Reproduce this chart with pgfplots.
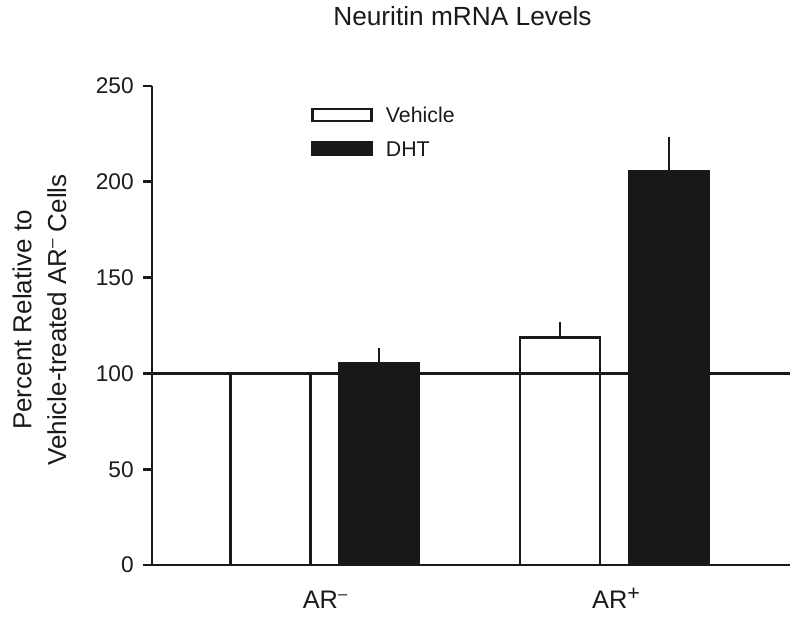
\documentclass[border=0pt]{standalone}
\usepackage{fontspec}
\setmainfont{Liberation Sans}
\usepackage{graphicx}
\usepackage{pgfplots}
\pgfplotsset{compat=1.18}

\definecolor{ink}{RGB}{26,26,26}
\definecolor{barfill}{RGB}{24,24,24}
\newcommand{\supm}{\raisebox{0.35em}{\scalebox{0.65}{–}}}
\newcommand{\supp}{\raisebox{0.3em}{\scalebox{0.85}{+}}}

\begin{document}
\begin{tikzpicture}
\begin{axis}[
  scale only axis,
  width=478.5pt, height=359.25pt,
  xmin=152, xmax=790,
  ymin=0, ymax=250,
  clip=false,
  axis x line=bottom, axis y line=left,
  axis line style={-, line width=2pt, ink},
  ytick={0,50,...,250},
  xtick={325,616},
  xticklabels={AR\supm, AR\supp},
  major x tick style={draw=none},
  tick align=outside,
  major tick length=6.75pt,
  major y tick style={line width=2pt, ink},
  /pgf/number format/assume math mode=true,
  yticklabel style={font=\fontsize{17}{20}\selectfont, text=ink, xshift=-3.5pt},
  xticklabel style={font=\fontsize{19}{22}\selectfont, text=ink, anchor=base, yshift=-25.75pt},
  title={Neuritin mRNA Levels},
  title style={at={(rel axis cs:0.4867,1.1106)}, anchor=base, font=\fontsize{19.7}{23}\selectfont, text=ink},
  ylabel={Percent Relative to\\Vehicle-treated AR\supm{} Cells},
  every axis y label/.style={at={(rel axis cs:-0.1763,0.5115)}, rotate=90, anchor=center,
    align=center, font=\fontsize{19.5}{26}\selectfont, text=ink},
  legend style={draw=none, fill=none, at={(axis cs:311,239)}, anchor=north west,
    inner sep=0pt, row sep=12.5pt, column sep=10pt,
    nodes={inner sep=0pt, font=\fontsize{16}{19}\selectfont, text=ink}},
  legend cell align=left,
  legend image code/.code={\draw[#1] (0pt,-3.6pt) rectangle (44pt,5.4pt);},
]

% Vehicle
\addplot[ybar, bar width=80, bar shift=0pt, draw=ink, fill=white, line width=2pt,
  error bars/.cd, y dir=plus, y explicit, error mark=none,
  error bar style={line width=2pt, ink}]
  coordinates {(270.5,100) +- (0,0) (560,118.8) +- (0,8.2)};
\addlegendentry{Vehicle}

% DHT
\addplot[ybar, bar width=80, bar shift=0pt, draw=barfill, fill=barfill, line width=2pt,
  error bars/.cd, y dir=plus, y explicit, error mark=none,
  error bar style={line width=2pt, ink}]
  coordinates {(379,105.3) +- (0,7.8) (669,205.3) +- (0,18.2)};
\addlegendentry{DHT}

% reference line at 100 %
\addplot[ink, line width=2pt, forget plot] coordinates {(152,100) (790,100)};

\path (axis cs:0,-29.75) rectangle (axis cs:800,294.9);
\end{axis}
\end{tikzpicture}
\end{document}
